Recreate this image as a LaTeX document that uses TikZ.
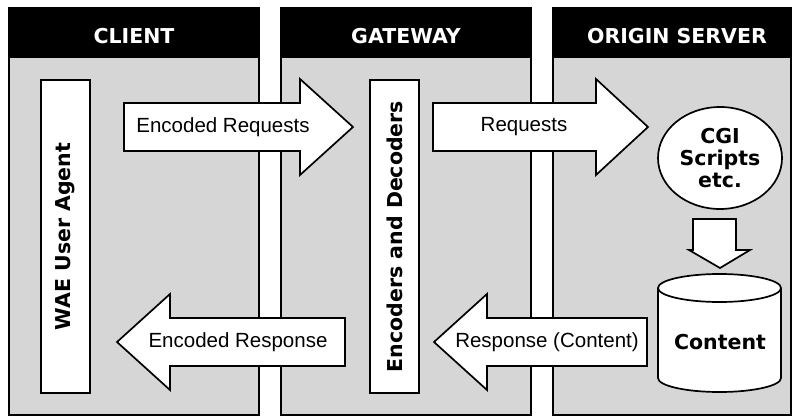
\documentclass[tikz,border=0pt]{standalone}
\usepackage{fontspec}
\setmainfont{Liberation Sans}
\newfontfamily\heavyfont{DejaVu Sans}
\usetikzlibrary{shapes.geometric}
\definecolor{panelgray}{HTML}{D6D6D6}

\begin{document}
\begin{tikzpicture}[x=1pt,y=-1pt,line width=1.7pt,
  paneltitle/.style={text=white,font=\heavyfont\bfseries\fontsize{20.5}{22}\selectfont},
  arrowtext/.style={font=\fontsize{20.5}{22}\selectfont},
  boxtext/.style={font=\heavyfont\bfseries\fontsize{20.5}{22}\selectfont},
  upright/.style={draw,fill=white,rotate=90,minimum width=313pt,minimum height=49pt,inner sep=0pt}]
\useasboundingbox (0,0) rectangle (794,417);
% panels
\foreach \l/\r in {9/259,281/531,553/791}
  {\draw[fill=panelgray] (\l,8) rectangle (\r,415);
   \draw[fill=black] (\l,8) rectangle (\r,57);}
\draw  (134,36) node[paneltitle] (client) {CLIENT};
\draw  (406,36) node[paneltitle] (gateway) {GATEWAY};
\draw  (677,36) node[paneltitle] (origin) {ORIGIN SERVER};
% upright boxes
\draw  (65.5,236.5) node[upright,boxtext] (wae) {WAE User Agent};
\draw  (394.5,236.5) node[upright,boxtext] (codec) {Encoders and Decoders};
% block arrows
\draw[fill=white] (124,103) -- (300,103) -- (300,79) -- (353,127) -- (300,175) -- (300,151) -- (124,151) -- cycle;
\draw[fill=white] (433,103) -- (596,103) -- (596,79) -- (648,127) -- (596,175) -- (596,151) -- (433,151) -- cycle;
\draw[fill=white] (345,318) -- (170,318) -- (170,294) -- (117,342) -- (170,390) -- (170,366) -- (345,366) -- cycle;
\draw[fill=white] (647,318) -- (487,318) -- (487,294) -- (434,342) -- (487,390) -- (487,366) -- (647,366) -- cycle;
\draw  (223,127) node[arrowtext] (encreq) {Encoded Requests};
\draw  (524,127) node[arrowtext] (req) {Requests};
\draw  (238,342) node[arrowtext] (encresp) {Encoded Response};
\draw  (547,342) node[arrowtext] (resp) {Response (Content)};
% origin server side
\draw  (720,158) node[ellipse,draw,fill=white,minimum width=124pt,minimum height=102pt,inner sep=0pt,boxtext,align=center] (cgi) {CGI\\Scripts\\etc.};
\draw[fill=white] (693,219) -- (736,219) -- (736,250) -- (750,250) -- (720,268) -- (689,250) -- (693,250) -- cycle;
\draw[fill=white] (658,288) -- (658,378) arc[start angle=180,end angle=0,x radius=61.5,y radius=14]
  -- (781,288) arc[start angle=0,end angle=-180,x radius=61.5,y radius=14] -- cycle;
\draw (658,288) arc[start angle=180,end angle=0,x radius=61.5,y radius=14];
\draw  (720,342) node[boxtext] (content) {Content};
\end{tikzpicture}
\end{document}
